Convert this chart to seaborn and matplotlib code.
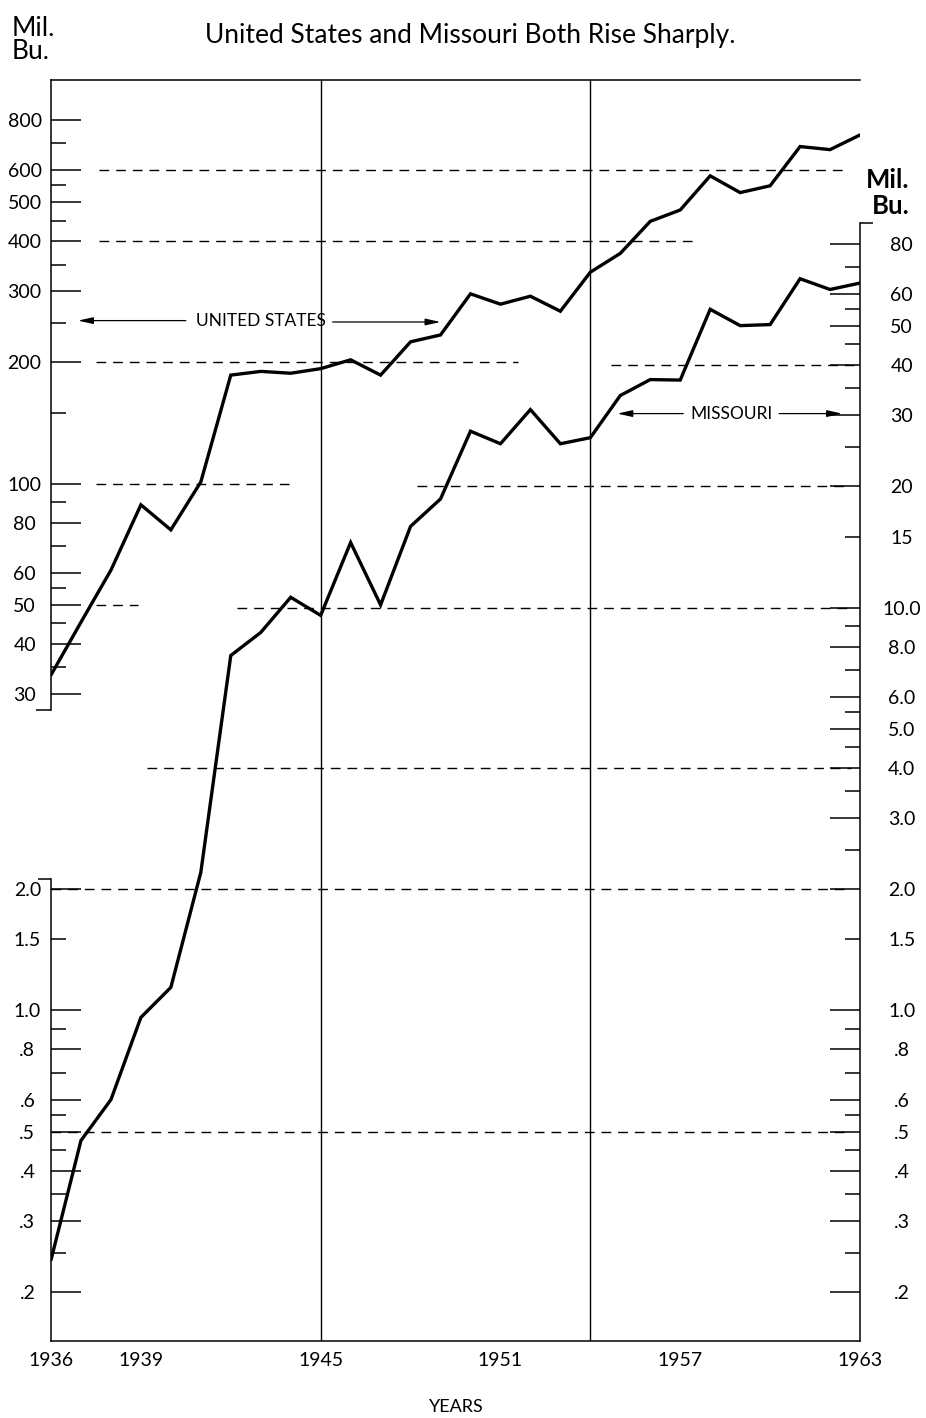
import matplotlib
matplotlib.use("Agg")
import matplotlib.pyplot as plt
import pandas as pd
import seaborn as sns

# ---------------------------------------------------------------- data
years = list(range(1936, 1964))

# United States production, million bushels (left scale, upper part)
us_prod = [33.5, 45.3, 61, 88.6, 76.8, 101, 186, 190, 188, 193,
           203, 186, 225, 234, 296, 279, 292, 268, 335, 373,
           448, 478, 581, 528, 549, 687, 675, 734]

# Missouri production, million bushels (right scale)
mo_prod = [0.24, 0.475, 0.60, 0.96, 1.14, 2.2, 7.6, 8.67, 10.6, 9.56,
           14.5, 10.15, 15.9, 18.6, 27.4, 25.5, 31.0, 25.5, 26.4, 33.6,
           36.8, 36.7, 55.0, 50.1, 50.4, 65.5, 61.6, 63.9]

# tick values and labels
us_major = [30, 40, 50, 60, 80, 100, 200, 300, 400, 500, 600, 800]
us_minor = [35, 45, 55, 70, 90, 150, 250, 350, 450, 550, 700]

low_major = [0.2, 0.3, 0.4, 0.5, 0.6, 0.8, 1.0, 2.0]
low_major_lbl = [".2", ".3", ".4", ".5", ".6", ".8", "1.0", "2.0"]
low_minor = [0.25, 0.35, 0.45, 0.55, 0.7, 0.9, 1.5]
low_minor_lbl = ["", "", "", "", "", "", "1.5"]

mo_major = [0.2, 0.3, 0.4, 0.5, 0.6, 0.8, 1.0, 2.0, 3.0, 4.0, 5.0, 6.0,
            8.0, 10.0, 20, 30, 40, 50, 60, 80]
mo_major_lbl = [".2", ".3", ".4", ".5", ".6", ".8", "1.0", "2.0", "3.0",
                "4.0", "5.0", "6.0", "8.0", "10.0", "20", "30", "40",
                "50", "60", "80"]
mo_minor = [0.25, 0.35, 0.45, 0.55, 0.7, 0.9, 1.5, 2.5, 3.5, 4.5, 5.5,
            7, 9, 15, 25, 35, 45, 55, 70]
mo_minor_lbl = ["", "", "", "", "", "", "1.5", "", "", "", "", "", "",
                "15", "", "", "", "", ""]

year_major = list(range(1936, 1964, 3))
year_major_lbl = ["1936", "1939", "", "1945", "", "1951", "", "1957", "",
                  "1963"]

# ---------------------------------------------------------------- style
sns.set_style("white")
plt.rcParams["font.family"] = ["Lato", "DejaVu Sans"]
INK = "black"

W, H = 926, 1418
fig = plt.figure(figsize=(W / 100, H / 100), dpi=100)
fig.patch.set_facecolor("white")

ax = fig.add_axes([51 / W, (H - 1341) / H, 809 / W, 1261 / H])
ax_us = ax.twinx()
ax_low = ax.twinx()

MO_LIM = (0.151, 204)
US_LIM = (0.744, 1005)
for a, lim in ((ax, MO_LIM), (ax_low, MO_LIM), (ax_us, US_LIM)):
    a.set_yscale("log")
    a.set_ylim(*lim)
    for s in a.spines.values():
        s.set_visible(False)

# ---------------------------------------------------------------- lines
df_us = pd.DataFrame({"year": years, "value": us_prod})
df_mo = pd.DataFrame({"year": years, "value": mo_prod})
sns.lineplot(data=df_us, x="year", y="value", ax=ax_us, color=INK,
             lw=2.4, solid_joinstyle="miter")
sns.lineplot(data=df_mo, x="year", y="value", ax=ax, color=INK,
             lw=2.4, solid_joinstyle="miter")
for a in (ax, ax_us, ax_low):
    a.set_xlabel("")
    a.set_ylabel("")
ax.set_xlim(1936, 1963)

# reference dashes
dash = dict(color=INK, lw=1.0, linestyle=(0, (7, 5)), zorder=1)
for v, x0, x1 in [(600, 1937.6, 1962.6), (400, 1937.6, 1957.6),
                  (200, 1937.5, 1951.6), (100, 1937.5, 1944.0),
                  (50, 1937.5, 1938.9)]:
    ax_us.hlines(v, x0, x1, **dash)
for v, x0, x1 in [(40, 1954.7, 1963), (20, 1948.2, 1962.6),
                  (10, 1942.2, 1962.7), (4, 1939.2, 1962.7),
                  (2, 1936, 1962.7), (0.5, 1936, 1962.7)]:
    ax.hlines(v, x0, x1, **dash)

# period dividers
for yr in (1945, 1954):
    ax.axvline(yr, color=INK, lw=1.0, zorder=1)

# ---------------------------------------------------------------- frame
SPW = 1.1
ax.spines["top"].set_visible(True)
ax.spines["bottom"].set_visible(True)
ax.spines["right"].set_visible(True)
ax.spines["right"].set_bounds(MO_LIM[0], 90)
ax_us.spines["left"].set_visible(True)
ax_us.spines["left"].set_bounds(27.5, US_LIM[1])
ax_low.spines["left"].set_visible(True)
ax_low.spines["left"].set_bounds(MO_LIM[0], 2.12)
for a, side in ((ax, "top"), (ax, "bottom"), (ax, "right"),
                (ax_us, "left"), (ax_low, "left")):
    a.spines[side].set_color(INK)
    a.spines[side].set_linewidth(SPW)

hook = dict(color=INK, lw=SPW, clip_on=False, solid_capstyle="butt")
ax_us.plot([1935.5, 1936], [27.5, 27.5], **hook)
ax.plot([1935.55, 1936], [2.12, 2.12], **hook)
ax.plot([1963, 1963.42], [90, 90], **hook)

# ---------------------------------------------------------------- ticks
LONG, SHORT = 21.6, 10.8
TFS = 14

ax.set_xticks(year_major, labels=year_major_lbl)
ax.set_xticks(years, minor=True)
ax.tick_params(axis="x", which="major", direction="in", length=14.4,
               width=SPW, pad=8, labelsize=TFS, colors=INK)
ax.tick_params(axis="x", which="minor", direction="in", length=7.9,
               width=SPW)

# right scale (Missouri)
ax.yaxis.tick_right()
ax.set_yticks(mo_major, labels=mo_major_lbl)
ax.set_yticks(mo_minor, labels=mo_minor_lbl, minor=True)
ax.tick_params(axis="y", which="both", direction="in", left=False,
               right=True, width=SPW, pad=30, labelsize=TFS, colors=INK)
ax.tick_params(axis="y", which="major", length=LONG)
ax.tick_params(axis="y", which="minor", length=SHORT)

# left scale, upper part (United States)
ax_us.yaxis.tick_left()
ax_us.set_yticks(us_major, labels=[str(v) for v in us_major])
ax_us.set_yticks(us_minor, labels=[""] * len(us_minor), minor=True)
ax_us.tick_params(axis="y", which="both", direction="in", left=True,
                  right=False, width=SPW, pad=19, labelsize=TFS, colors=INK)
ax_us.tick_params(axis="y", which="major", length=LONG)
ax_us.tick_params(axis="y", which="minor", length=SHORT)

# left scale, lower part
ax_low.yaxis.tick_left()
ax_low.set_yticks(low_major, labels=low_major_lbl)
ax_low.set_yticks(low_minor, labels=low_minor_lbl, minor=True)
ax_low.tick_params(axis="y", which="both", direction="in", left=True,
                   right=False, width=SPW, pad=17, labelsize=TFS,
                   colors=INK)
ax_low.tick_params(axis="y", which="major", length=LONG)
ax_low.tick_params(axis="y", which="minor", length=SHORT)

# ---------------------------------------------------------------- labels
arrow = dict(arrowstyle="-|>,head_length=0.9,head_width=0.2", color=INK,
             lw=0.9, shrinkA=0, shrinkB=0, mutation_scale=10)
LFS = 12.5
ax_us.text(1943.0, 254, "UNITED STATES", ha="center", va="center",
           fontsize=LFS, color=INK)
ax_us.annotate("", xy=(1936.9, 254), xytext=(1940.5, 254),
               arrowprops=arrow)
ax_us.annotate("", xy=(1949.0, 252), xytext=(1945.4, 252),
               arrowprops=arrow)

ax.text(1958.7, 30.3, "MISSOURI", ha="center", va="center",
        fontsize=LFS, color=INK)
ax.annotate("", xy=(1954.9, 30.3), xytext=(1957.1, 30.3),
            arrowprops=arrow)
ax.annotate("", xy=(1962.4, 30.3), xytext=(1960.3, 30.3),
            arrowprops=arrow)

fig.text(470 / W, 1 - 35 / H, "United States and Missouri Both Rise Sharply.",
         ha="center", va="center", fontsize=19, color=INK)
fig.text(12 / W, 1 - 40 / H, "Mil.\nBu.", ha="left", va="center",
         fontsize=19, color=INK, linespacing=0.92)
fig.text(866 / W, 1 - 193 / H, "Mil.\nBu.", ha="left", va="center",
         fontsize=18.5, fontweight="bold", color=INK, linespacing=1.08,
         multialignment="right")
fig.text(456 / W, 1 - 1407 / H, "YEARS", ha="center", va="center",
         fontsize=13, color=INK)

fig.canvas.draw()
for a in (ax, ax_us, ax_low):
    for lbl in a.get_yticklabels(which="both"):
        lbl.set_horizontalalignment("center")

fig.savefig("out.png", dpi=100, facecolor="white")
